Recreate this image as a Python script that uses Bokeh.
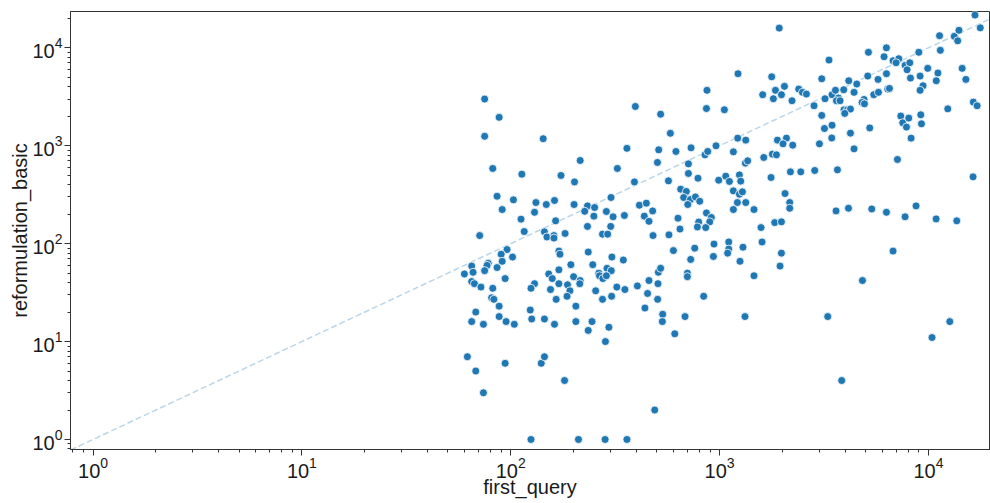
from bokeh.plotting import figure
from bokeh.models import Range1d, ColumnDataSource
from bokeh.embed import file_html
from bokeh.resources import INLINE

# number of steps per session: first query vs. basic reformulation
first_query = [
    75, 88, 75, 143, 82, 215, 324, 395, 522, 581,
    360, 511, 618, 730, 504, 709, 870, 865, 851, 877,
    961, 113, 174, 202, 391, 569, 709, 788, 990, 86,
    103, 91, 132, 148, 162, 130, 201, 233, 252, 226,
    302, 287, 250, 309, 350, 413, 446, 478, 436, 459,
    651, 693, 673, 725, 766, 704, 803, 865, 913, 897,
    794, 783, 858, 632, 646, 572, 480, 112, 164, 116,
    71, 145, 149, 161, 161, 182, 233, 301, 275, 291,
    170, 172, 235, 305, 346, 96, 90, 102, 91, 78,
    77, 86, 65, 75, 66, 60, 65, 67, 72, 82,
    94, 81, 83, 194, 247, 170, 152, 158, 200, 215,
    214, 264, 266, 276, 289, 303, 287, 170, 187, 155,
    130, 125, 192, 186, 165, 255, 275, 304, 322, 352,
    404, 459, 507, 452, 505, 509, 522, 601, 760, 727,
    701, 701, 940, 934, 839, 68, 65, 74, 88, 88,
    95, 104, 124, 126, 145, 162, 205, 205, 245, 235,
    295, 284, 439, 534, 532, 683, 610, 62, 68, 74,
    94, 140, 145, 181, 489, 125, 211, 283, 360,
    16700, 17700, 1930, 11300, 13300, 14000, 13800, 11400, 8990, 6290,
    6130, 5160, 3340, 6770, 7210, 7000, 7730, 8140, 7900, 8200,
    9920, 11100, 10900, 14500, 15100, 9120, 9420, 9120, 1225, 1776,
    1054, 1851, 2044, 1608, 1809, 1977, 2222, 2393, 2492, 2604,
    3083, 2832, 3197, 3454, 3586, 3929, 4153, 4536, 4402, 3707,
    3626, 3773, 5120, 5737, 6293, 5471, 5762, 6384, 6505, 4915,
    4809, 4937, 3942, 4094, 4232, 3973, 3083, 3177, 3454, 3443,
    4232, 5234, 4402, 3006, 7369, 7531, 7847, 8048, 9187, 9257,
    8256, 12370, 16400, 17100, 1221, 1334, 1892, 2089, 2012, 2239,
    1164, 7105, 16350, 1627, 1790, 1871, 1329, 1363, 2183, 2446,
    2854, 3666, 1070, 1244, 1114, 1262, 1763, 1164, 1244, 1286,
    2057, 1217, 1334, 2166, 2166, 1164, 1461, 3610, 4140, 5352,
    6293, 8722, 7727, 10880, 13660, 1836, 1977, 1579, 1106, 1597,
    1106, 1093, 1294, 1977, 1947, 1252, 1461, 6768, 4830, 1323,
    3294, 12650, 10400, 3843,
]

reformulation_basic = [
    3000, 1950, 1250, 1180, 586, 707, 586, 2520, 2100, 1340,
    940, 908, 874, 952, 675, 653, 3680, 2400, 807, 874,
    998, 512, 497, 427, 427, 438, 521, 466, 445, 305,
    280, 223, 263, 251, 276, 209, 251, 243, 234, 214,
    296, 213, 191, 188, 194, 247, 259, 216, 191, 169,
    360, 341, 296, 282, 300, 251, 271, 206, 185, 167,
    166, 148, 146, 182, 141, 123, 121, 178, 171, 133,
    121, 132, 117, 121, 114, 127, 150, 150, 125, 125,
    84, 78, 82, 73, 68, 87, 78, 73, 66, 63,
    60, 57, 59, 53, 51, 49, 41, 39, 36, 35,
    44, 28, 27, 61, 61, 54, 49, 44, 46, 42,
    39, 50, 47, 44, 56, 53, 47, 39, 38, 34,
    39, 35, 33, 29, 27, 33, 27, 29, 36, 34,
    37, 42, 39, 31, 27, 51, 56, 85, 90, 69,
    50, 46, 99, 74, 29, 20, 16, 15, 23, 18,
    16, 15, 21, 17, 17, 15, 23, 16, 16, 13,
    14, 10, 22, 19, 16, 18, 12, 7, 5, 3,
    6, 6, 7, 4, 2, 1, 1, 1, 1,
    21600, 16000, 15900, 13300, 13100, 15100, 11800, 9430, 9000, 10000,
    8110, 9000, 7500, 7380, 7740, 7040, 6620, 7040, 5970, 4910,
    6170, 5530, 4610, 6170, 4760, 5150, 4100, 3680, 5440, 5060,
    2330, 3680, 4040, 3320, 3020, 3320, 2880, 3790, 3510, 3370,
    4830, 2560, 3020, 3320, 3680, 3730, 4610, 4270, 3510, 3070,
    2880, 2880, 5150, 4760, 5440, 3320, 3510, 3790, 3850, 2970,
    2770, 2680, 2330, 2330, 2370, 2140, 2040, 1500, 1620, 1200,
    1345, 1520, 929, 1046, 2010, 1715, 1550, 1915, 2070, 1675,
    1196, 2380, 2790, 2560, 1196, 1141, 1141, 1196, 1046, 1014,
    866, 724, 481, 759, 821, 807, 664, 701, 541, 541,
    559, 567, 489, 504, 432, 435, 474, 346, 320, 338,
    325, 263, 263, 263, 230, 223, 223, 216, 230, 226,
    209, 243, 188, 179, 171, 164, 167, 146, 104, 104,
    88, 80, 92, 80, 59, 66, 47, 84, 42, 18,
    18, 16, 11, 4,
]

# axis limits (log scale)
x_limits = [0.78, 19600]
y_limits = [0.79, 23500]

FONT = "Liberation Sans"
TEXT = "#1a1a1a"
EDGE = "#333333"

p = figure(
    width=990, height=503,
    x_axis_type="log", y_axis_type="log",
    x_range=Range1d(*x_limits), y_range=Range1d(*y_limits),
    output_backend="svg", toolbar_location=None,
    min_border_left=70, min_border_right=1,
    min_border_top=11, min_border_bottom=54,
)

p.grid.visible = False
p.outline_line_color = EDGE
p.outline_line_width = 1
p.background_fill_color = "white"
p.border_fill_color = "white"

for ax in (p.xaxis[0], p.yaxis[0]):
    ax.axis_line_color = EDGE
    ax.major_tick_line_color = EDGE
    ax.minor_tick_line_color = EDGE
    ax.major_tick_out = 6
    ax.major_tick_in = 0
    ax.minor_tick_out = 3
    ax.minor_tick_in = 0
    ax.major_label_text_font = FONT
    ax.major_label_text_font_size = "20px"
    ax.major_label_text_color = TEXT
    ax.axis_label_text_font = FONT
    ax.axis_label_text_font_size = "20px"
    ax.axis_label_text_font_style = "normal"
    ax.axis_label_text_color = TEXT

p.xaxis.axis_label = "first_query"
p.yaxis.axis_label = "reformulation_basic"
p.xaxis.major_label_standoff = 1
p.xaxis.axis_label_standoff = -5
p.yaxis.major_label_standoff = 2
p.yaxis.axis_label_standoff = -2

# identity reference line y = x
p.line(x=x_limits, y=x_limits, line_color="#1f77b4", line_alpha=0.3,
       line_width=1.5, line_dash="6 3")

src = ColumnDataSource(dict(x=first_query, y=reformulation_basic))
p.scatter("x", "y", source=src, size=8, fill_color="#1f77b4",
          line_color="white", line_width=0.8)

open("out.html", "w").write(file_html(p, INLINE))
